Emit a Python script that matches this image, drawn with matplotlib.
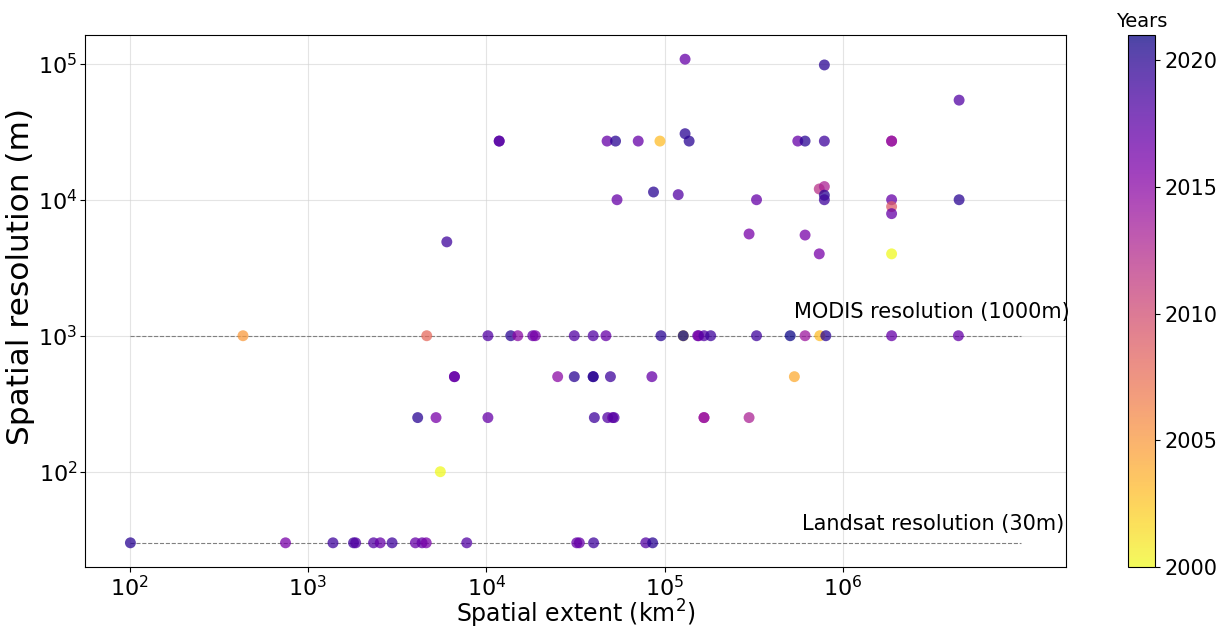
import numpy as np
import matplotlib
matplotlib.use("Agg")
import matplotlib.pyplot as plt

# Study spatial extent (km2), spatial resolution (m) and publication year
extent = [
    1.18e4, 1.18e4, 6.0e3, 4.75e4, 5.3e4, 7.1e4, 9.4e4, 1.30e5, 1.37e5, 1.30e5,
    5.4e4, 8.65e4, 1.19e5, 7.85e5, 4.47e6, 5.57e5, 6.12e5, 7.85e5, 1.87e6, 1.87e6,
    3.27e5, 7.35e5, 7.85e5, 7.85e5, 7.85e5, 1.87e6, 1.87e6, 1.87e6, 4.47e6, 2.97e5,
    6.12e5, 7.35e5, 1.87e6,
    # 1000 m
    432, 4630, 1.02e4, 1.37e4, 1.50e4, 1.82e4, 1.88e4, 3.11e4, 3.97e4, 4.68e4,
    9.52e4, 1.27e5, 1.27e5, 1.53e5, 1.55e5, 1.66e5, 1.81e5, 3.27e5, 5.05e5, 6.12e5,
    7.4e5, 8.0e5, 1.87e6, 4.43e6,
    # 500 m
    6.62e3, 6.62e3, 2.51e4, 3.11e4, 3.97e4, 3.97e4, 4.96e4, 8.47e4, 5.33e5,
    # 250 m
    4.12e3, 5.22e3, 1.02e4, 4.03e4, 4.79e4, 5.1e4, 5.2e4, 1.66e5, 1.66e5, 2.97e5,
    # 100 m
    5.52e3,
    # 30 m
    101, 748, 1.38e3, 1.80e3, 1.85e3, 2.33e3, 2.54e3, 2.96e3, 4.0e3, 4.36e3,
    4.6e3, 7.76e3, 3.21e4, 3.32e4, 3.99e4, 7.83e4, 8.55e4,
]
resolution = [
    2.7e4, 2.7e4, 4.9e3, 2.7e4, 2.7e4, 2.7e4, 2.7e4, 3.06e4, 2.7e4, 1.08e5,
    1.0e4, 1.14e4, 1.09e4, 9.8e4, 5.4e4, 2.7e4, 2.7e4, 2.7e4, 2.7e4, 2.7e4,
    1.0e4, 1.2e4, 1.25e4, 1.08e4, 1.0e4, 1.0e4, 8.9e3, 7.9e3, 1.0e4, 5.6e3,
    5.5e3, 4.0e3, 4.0e3,
] + [1000] * 24 + [500] * 9 + [250] * 10 + [100] + [30] * 17
year = [
    2017, 2018, 2019, 2017, 2020, 2017, 2003, 2020, 2020, 2017,
    2017, 2020, 2018, 2020, 2018, 2017, 2020, 2019, 2015, 2014,
    2017, 2012, 2013, 2020, 2019, 2017, 2009, 2017, 2020, 2016,
    2016, 2016, 2000,
    2005, 2008, 2018, 2020, 2015, 2017, 2016, 2018, 2018, 2017,
    2020, 2002, 2021, 2017, 2016, 2018, 2019, 2019, 2021, 2014,
    2003, 2020, 2017, 2017,
    2017, 2017, 2015, 2020, 2020, 2020, 2019, 2017, 2004,
    2020, 2016, 2017, 2019, 2018, 2017, 2018, 2014, 2014, 2013,
    2000,
    2020, 2016, 2019, 2019, 2018, 2018, 2017, 2019, 2017, 2017,
    2016, 2018, 2017, 2017, 2019, 2018, 2020,
]

sensors = ["MODIS resolution (1000m)", "Landsat resolution (30m)"]
sensor_res = [1000, 30]
x_ticks = [1e2, 1e3, 1e4, 1e5, 1e6]

fig = plt.figure(figsize=(12.22, 6.3), dpi=100)
ax = fig.add_axes([0.0696, 0.1, 0.8028, 0.8444])

sc = ax.scatter(extent, resolution, c=year, cmap="plasma_r", vmin=2000, vmax=2021,
                s=62, alpha=0.75, edgecolors="none", zorder=3)

# reference lines for common sensors
ax.hlines(sensor_res, 100, 1e7, colors="gray", linestyles="--", linewidth=0.8, zorder=2)
ax.text(5.3e5, 1350, sensors[0], fontsize=15)
ax.text(5.9e5, 37, sensors[1], fontsize=15)

ax.set_xscale("log")
ax.set_yscale("log")
ax.set_xticks(x_ticks)
ax.minorticks_off()
ax.grid(True, color="lightgray", alpha=0.6, linewidth=0.8)
ax.tick_params(labelsize=16, pad=2)
ax.set_xlabel("Spatial extent (km$^2$)", fontsize=17)
ax.set_ylabel("Spatial resolution (m)", fontsize=22.5)
ax.xaxis.set_label_coords(0.5, -0.058)
ax.yaxis.set_label_coords(-0.051, 0.547)

cax = fig.add_axes([1128 / 1222, 0.1, 27 / 1222, 0.8444])
cbar = fig.colorbar(sc, cax=cax)
cbar.set_ticks([2000, 2005, 2010, 2015, 2020])
cbar.ax.minorticks_off()
cbar.ax.tick_params(labelsize=15)
cbar.ax.set_title("Years", fontsize=14)

fig.savefig("out.png", dpi=100)
